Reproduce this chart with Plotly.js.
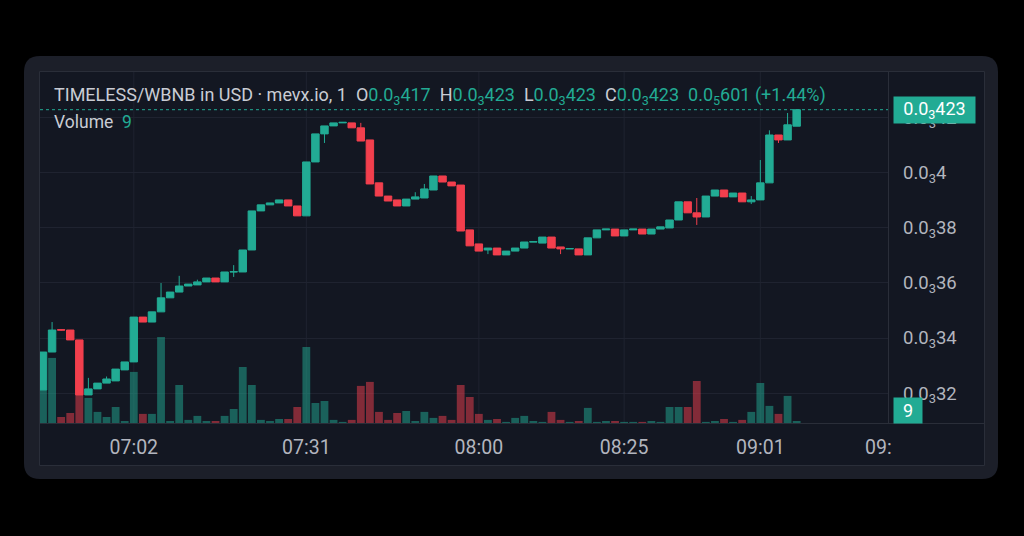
<!DOCTYPE html>
<html><head><meta charset="utf-8">
<script src="https://cdn.plot.ly/plotly-3.0.1.min.js"></script>
<style>html,body{margin:0;padding:0;background:#000;}#chart{width:1024px;height:536px;}</style>
</head><body><div id="chart"></div>
<script>
// prices in units of 1e-6 USD
const PRICE_UNIT = 1e-6;
const openU  = [321.1,334.9,343.0,342.9,339.3,319.3,321.5,323.6,324.4,328.4,331.3,347.6,345.8,349.5,354.6,356.7,358.9,359.3,360.4,361.8,360.4,364.0,364.0,372.0,386.2,388.4,389.1,390.2,388.0,384.4,404.0,414.2,417.1,418.2,418.2,416.4,412.0,396.4,391.6,390.2,388.0,390.5,390.9,393.8,398.9,396.7,395.6,379.3,374.2,372.0,372.7,370.2,371.6,372.7,374.9,374.5,376.7,373.1,372.4,372.4,370.2,376.4,379.3,379.6,377.1,379.3,379.6,377.8,379.6,380.0,382.9,389.5,385.5,384.0,391.6,393.8,391.3,392.7,389.5,390.2,396.4,413.8,412.0,417.0];
const highU  = [334.9,345.8,343.2,342.9,339.3,325.5,323.6,326.0,328.7,331.3,347.6,347.6,349.5,360.0,356.7,362.6,359.6,361.2,361.8,361.8,364.0,366.5,372.0,386.2,388.4,389.1,390.2,390.2,388.0,404.0,414.2,417.1,418.2,418.4,418.2,418.2,412.0,396.4,391.6,390.2,390.5,393.0,396.0,398.9,398.9,396.7,395.6,379.3,374.2,372.7,372.7,371.6,372.7,374.9,375.0,376.7,376.7,373.1,372.5,372.4,376.4,379.3,379.6,379.6,379.3,379.6,379.6,379.6,380.4,382.9,389.5,389.5,390.9,391.6,393.8,393.8,392.7,392.7,391.6,404.7,415.5,413.8,421.8,423.0];
const lowU   = [321.1,334.9,342.7,339.3,319.3,319.3,321.5,323.6,324.4,328.4,331.3,345.8,345.8,349.5,354.6,356.7,358.9,359.3,360.4,360.4,360.4,362.2,364.0,372.0,386.2,388.4,389.1,388.0,384.4,384.4,404.0,410.9,417.1,418.2,416.4,411.6,396.0,391.6,389.8,388.0,388.0,390.5,390.9,393.8,396.7,395.3,378.9,373.5,371.6,370.5,370.2,370.2,371.6,372.7,374.9,374.5,372.7,370.5,372.4,370.2,370.2,376.4,379.3,377.1,377.1,379.3,377.8,377.8,379.6,380.0,382.9,385.5,381.1,384.0,391.6,391.3,391.3,389.5,388.7,390.2,396.4,410.9,412.0,417.0];
const closeU = [334.9,342.9,342.9,339.3,319.3,321.5,323.6,325.1,328.7,331.3,347.6,345.8,349.5,354.6,356.7,358.9,359.6,360.4,361.8,360.4,364.0,364.1,372.0,386.2,388.4,389.1,390.2,388.0,384.4,404.0,414.2,417.1,418.2,418.4,416.4,411.6,396.0,391.6,389.8,388.0,390.5,391.3,394.2,398.9,396.7,395.3,378.9,373.5,371.6,372.7,370.2,371.6,372.7,374.9,375.0,376.7,372.7,372.4,372.5,370.2,376.4,379.3,379.6,377.1,379.3,379.6,377.8,379.6,380.4,382.9,389.5,385.5,384.0,391.6,393.8,391.3,392.7,389.5,390.2,396.4,413.8,412.0,417.5,423.0];
const volume = [149,293,27,45,126,113,50,27,72,9,230,41,41,387,9,171,14,32,9,9,32,63,252,171,14,9,18,18,72,342,90,99,14,5,14,167,185,50,14,45,54,9,50,23,32,14,171,117,41,14,18,5,23,32,9,5,50,14,5,9,68,5,9,9,5,5,5,9,5,72,72,72,189,5,9,18,5,14,50,180,77,41,122,9];

const priceTickVals = [320,340,360,380,400,420];
const priceTickText = ['0.0<sub>3</sub>32','0.0<sub>3</sub>34','0.0<sub>3</sub>36','0.0<sub>3</sub>38','0.0<sub>3</sub>4','0.0<sub>3</sub>42'];
const timeTickIdx  = [10,29,48,64,79,92];
const timeTickText = ['07:02','07:31','08:00','08:25','09:01','09:'];

const symbolText = 'TIMELESS/WBNB in USD · mevx.io, 1';
const ohlcText = {O:'0.0<sub>3</sub>417', H:'0.0<sub>3</sub>423', L:'0.0<sub>3</sub>423', C:'0.0<sub>3</sub>423'};
const changeText = '0.0<sub>5</sub>601 (+1.44%)';
const lastPriceText = '0.0<sub>3</sub>423';
const lastVolumeText = '9';

const UP = '#22ab94', DOWN = '#f23f4d';
const UPV = 'rgba(34,171,148,0.5)', DOWNV = 'rgba(242,63,77,0.5)';
const TXT = '#b2b5be', TXT2 = '#c9ccd4';

const idx = openU.map((_, i) => i);
const toP = a => a.map(v => v * PRICE_UNIT);
const open = toP(openU), high = toP(highU), low = toP(lowU), close = toP(closeU);
const volColors = idx.map(i => closeU[i] >= openU[i] ? UPV : DOWNV);

// layout geometry (pixels)
const L = 40, R = 888, T = 72, B = 423;
const W = R - L, H = B - T;
const px = x => (x - L) / W;
const py = y => (B - y) / H;

const candles = {
  type: 'candlestick', x: idx, open: open, high: high, low: low, close: close,
  xaxis: 'x', yaxis: 'y', whiskerwidth: 0, hoverinfo: 'skip',
  increasing: {line: {color: UP, width: 1}, fillcolor: UP},
  decreasing: {line: {color: DOWN, width: 1}, fillcolor: DOWN}
};
const vols = {
  type: 'bar', x: idx, y: volume, width: 0.86, xaxis: 'x', yaxis: 'y2',
  marker: {color: volColors, line: {width: 0}}, hoverinfo: 'skip'
};

const shapes = [
  {type: 'path', xref: 'paper', yref: 'paper', layer: 'below',
   path: (() => {const x0=px(24),x1=px(998),y0=py(479),y1=py(56),rx=16/W,ry=16/H;
     return `M${x0+rx},${y1} L${x1-rx},${y1} Q${x1},${y1} ${x1},${y1-ry} L${x1},${y0+ry} Q${x1},${y0} ${x1-rx},${y0} L${x0+rx},${y0} Q${x0},${y0} ${x0},${y0+ry} L${x0},${y1-ry} Q${x0},${y1} ${x0+rx},${y1} Z`;})(),
   fillcolor: '#1c1f29', line: {width: 0}},
  {type: 'rect', xref: 'paper', yref: 'paper', layer: 'below',
   x0: px(39.5), x1: px(984.5), y0: py(465.5), y1: py(71.5),
   fillcolor: '#131722', line: {color: '#2a2e39', width: 1}},
  {type: 'line', xref: 'paper', yref: 'paper', layer: 'below',
   x0: px(888.5), x1: px(888.5), y0: py(423), y1: py(71.5), line: {color: '#2a2e39', width: 1}},
  {type: 'line', xref: 'paper', yref: 'paper', layer: 'below',
   x0: px(39.5), x1: px(984.5), y0: py(423.5), y1: py(423.5), line: {color: '#2a2e39', width: 1}},
  // last price line
  {type: 'line', xref: 'paper', yref: 'y', layer: 'above',
   x0: 0, x1: 1, y0: close[close.length-1], y1: close[close.length-1],
   line: {color: UP, width: 1, dash: 'dot'}}
];
// vertical grid lines at time ticks (except the clipped last one)
timeTickIdx.slice(0, 5).forEach(v => shapes.push({
  type: 'line', xref: 'x', yref: 'paper', layer: 'below', x0: v, x1: v, y0: 0, y1: 1,
  line: {color: '#1f2330', width: 1}
}));

const g = s => `<span style="color:${UP}">${s}</span>`;
const headerText = `<span style="color:${TXT2}">${symbolText}</span>&nbsp;&nbsp;` +
  Object.keys(ohlcText).map(k => `<span style="color:${TXT2}">${k}</span>${g(ohlcText[k])}`).join('&nbsp;&nbsp;') +
  '&nbsp;&nbsp;' + g(changeText);

const annotations = [
  {xref: 'paper', yref: 'paper', x: px(52), y: py(96), xanchor: 'left', yanchor: 'middle',
   text: headerText, showarrow: false, font: {size: 18, color: TXT2}},
  {xref: 'paper', yref: 'paper', x: px(52), y: py(122), xanchor: 'left', yanchor: 'middle',
   text: `<span style="color:${TXT2}">Volume</span>&nbsp;&nbsp;${g(lastVolumeText)}`, showarrow: false, font: {size: 17.5, color: TXT2}},
  {xref: 'paper', yref: 'y', x: px(934.5), y: close[close.length-1], xanchor: 'center', yanchor: 'middle',
   text: lastPriceText, showarrow: false, bgcolor: UP, width: 79, height: 24,
   font: {size: 18, color: '#ffffff'}},
  {xref: 'paper', yref: 'paper', x: px(908), y: py(410.5), xanchor: 'center', yanchor: 'middle',
   text: lastVolumeText, showarrow: false, bgcolor: UP, width: 26, height: 23,
   font: {size: 18, color: '#ffffff'}}
];

const layout = {
  width: 1024, height: 536,
  margin: {l: L, r: 1024 - R, t: T, b: 536 - B, pad: 0},
  paper_bgcolor: '#000000', plot_bgcolor: 'rgba(0,0,0,0)',
  font: {family: 'Roboto, "Open Sans", sans-serif', color: TXT},
  showlegend: false, boxgap: 0.18, boxgroupgap: 0, dragmode: false,
  xaxis: {range: [-0.33, 93.06], showgrid: false, zeroline: false, showline: false,
          tickmode: 'array', tickvals: timeTickIdx, ticktext: timeTickText, ticks: '',
          tickfont: {size: 19.5, color: TXT}, ticklabelstandoff: 10, rangeslider: {visible: false}, fixedrange: true},
  yaxis: {range: [309.1e-6, 436.7e-6], side: 'right', showgrid: true, gridcolor: '#1f2330', zeroline: false,
          showline: false, tickmode: 'array', tickvals: priceTickVals.map(v => v * PRICE_UNIT), ticktext: priceTickText,
          ticks: '', tickfont: {size: 18.5, color: TXT}, ticklabelstandoff: 14, fixedrange: true},
  yaxis2: {range: [0, 1580], overlaying: 'y', side: 'right', visible: false, showgrid: false, zeroline: false, fixedrange: true},
  shapes: shapes, annotations: annotations
};

Plotly.newPlot('chart', [vols, candles], layout, {displayModeBar: false, staticPlot: true});
</script></body></html>
